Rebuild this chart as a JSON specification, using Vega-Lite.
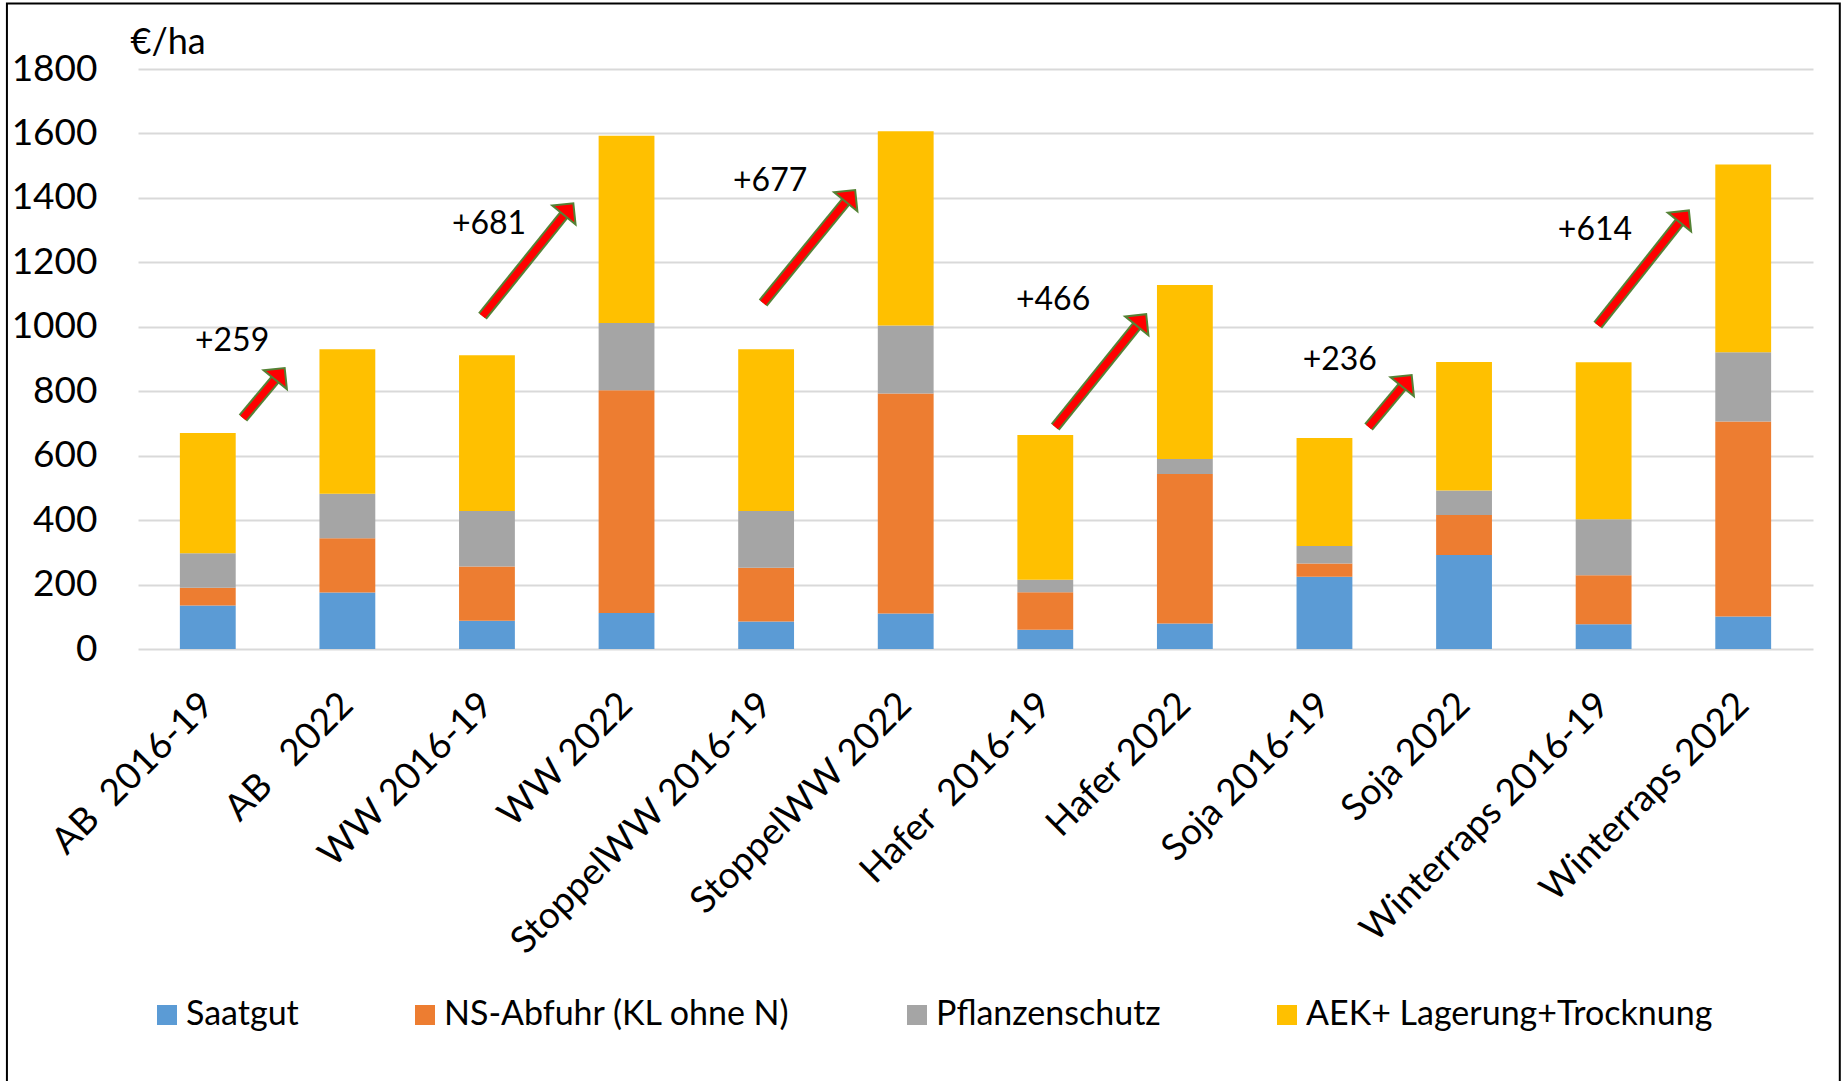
{
  "$schema": "https://vega.github.io/schema/vega-lite/v6.json",
  "width": 1675,
  "height": 580,
  "autosize": {"type": "none"},
  "padding": {"left": 138, "top": 69, "right": 31, "bottom": 432},
  "background": "white",
  "config": {"font": "Lato", "view": {"stroke": null}},
  "datasets": {
    "bars": [
      {"k": "AB\u00a0\u00a02016-19", "c": "Saatgut", "o": 1, "v": 135},
      {"k": "AB\u00a0\u00a02016-19", "c": "NS-Abfuhr (KL ohne N)", "o": 2, "v": 55},
      {"k": "AB\u00a0\u00a02016-19", "c": "Pflanzenschutz", "o": 3, "v": 107},
      {"k": "AB\u00a0\u00a02016-19", "c": "AEK+ Lagerung+Trocknung", "o": 4, "v": 373},
      {"k": "AB\u00a0\u00a0\u00a02022", "c": "Saatgut", "o": 1, "v": 175},
      {"k": "AB\u00a0\u00a0\u00a02022", "c": "NS-Abfuhr (KL ohne N)", "o": 2, "v": 169},
      {"k": "AB\u00a0\u00a0\u00a02022", "c": "Pflanzenschutz", "o": 3, "v": 138},
      {"k": "AB\u00a0\u00a0\u00a02022", "c": "AEK+ Lagerung+Trocknung", "o": 4, "v": 448},
      {"k": "WW 2016-19", "c": "Saatgut", "o": 1, "v": 88},
      {"k": "WW 2016-19", "c": "NS-Abfuhr (KL ohne N)", "o": 2, "v": 168},
      {"k": "WW 2016-19", "c": "Pflanzenschutz", "o": 3, "v": 172},
      {"k": "WW 2016-19", "c": "AEK+ Lagerung+Trocknung", "o": 4, "v": 484},
      {"k": "WW 2022", "c": "Saatgut", "o": 1, "v": 112},
      {"k": "WW 2022", "c": "NS-Abfuhr (KL ohne N)", "o": 2, "v": 691},
      {"k": "WW 2022", "c": "Pflanzenschutz", "o": 3, "v": 209},
      {"k": "WW 2022", "c": "AEK+ Lagerung+Trocknung", "o": 4, "v": 581},
      {"k": "StoppelWW 2016-19", "c": "Saatgut", "o": 1, "v": 85},
      {"k": "StoppelWW 2016-19", "c": "NS-Abfuhr (KL ohne N)", "o": 2, "v": 167},
      {"k": "StoppelWW 2016-19", "c": "Pflanzenschutz", "o": 3, "v": 176},
      {"k": "StoppelWW 2016-19", "c": "AEK+ Lagerung+Trocknung", "o": 4, "v": 502},
      {"k": "StoppelWW 2022", "c": "Saatgut", "o": 1, "v": 110},
      {"k": "StoppelWW 2022", "c": "NS-Abfuhr (KL ohne N)", "o": 2, "v": 683},
      {"k": "StoppelWW 2022", "c": "Pflanzenschutz", "o": 3, "v": 211},
      {"k": "StoppelWW 2022", "c": "AEK+ Lagerung+Trocknung", "o": 4, "v": 603},
      {"k": "Hafer\u00a0\u00a02016-19", "c": "Saatgut", "o": 1, "v": 60},
      {"k": "Hafer\u00a0\u00a02016-19", "c": "NS-Abfuhr (KL ohne N)", "o": 2, "v": 116},
      {"k": "Hafer\u00a0\u00a02016-19", "c": "Pflanzenschutz", "o": 3, "v": 39},
      {"k": "Hafer\u00a0\u00a02016-19", "c": "AEK+ Lagerung+Trocknung", "o": 4, "v": 449},
      {"k": "Hafer 2022", "c": "Saatgut", "o": 1, "v": 79},
      {"k": "Hafer 2022", "c": "NS-Abfuhr (KL ohne N)", "o": 2, "v": 464},
      {"k": "Hafer 2022", "c": "Pflanzenschutz", "o": 3, "v": 47},
      {"k": "Hafer 2022", "c": "AEK+ Lagerung+Trocknung", "o": 4, "v": 540},
      {"k": "Soja 2016-19", "c": "Saatgut", "o": 1, "v": 224},
      {"k": "Soja 2016-19", "c": "NS-Abfuhr (KL ohne N)", "o": 2, "v": 41},
      {"k": "Soja 2016-19", "c": "Pflanzenschutz", "o": 3, "v": 55},
      {"k": "Soja 2016-19", "c": "AEK+ Lagerung+Trocknung", "o": 4, "v": 335},
      {"k": "Soja 2022", "c": "Saatgut", "o": 1, "v": 292},
      {"k": "Soja 2022", "c": "NS-Abfuhr (KL ohne N)", "o": 2, "v": 124},
      {"k": "Soja 2022", "c": "Pflanzenschutz", "o": 3, "v": 76},
      {"k": "Soja 2022", "c": "AEK+ Lagerung+Trocknung", "o": 4, "v": 399},
      {"k": "Winterraps 2016-19", "c": "Saatgut", "o": 1, "v": 77},
      {"k": "Winterraps 2016-19", "c": "NS-Abfuhr (KL ohne N)", "o": 2, "v": 152},
      {"k": "Winterraps 2016-19", "c": "Pflanzenschutz", "o": 3, "v": 174},
      {"k": "Winterraps 2016-19", "c": "AEK+ Lagerung+Trocknung", "o": 4, "v": 487},
      {"k": "Winterraps 2022", "c": "Saatgut", "o": 1, "v": 101},
      {"k": "Winterraps 2022", "c": "NS-Abfuhr (KL ohne N)", "o": 2, "v": 605},
      {"k": "Winterraps 2022", "c": "Pflanzenschutz", "o": 3, "v": 215},
      {"k": "Winterraps 2022", "c": "AEK+ Lagerung+Trocknung", "o": 4, "v": 583}
    ],
    "arrows": [
      {"ax": 0.752, "v": 717, "ax2": 1.017, "v2": 854},
      {"ax": 2.468, "v": 1033, "ax2": 3.085, "v2": 1365},
      {"ax": 4.478, "v": 1074, "ax2": 5.104, "v2": 1406},
      {"ax": 6.571, "v": 689, "ax2": 7.189, "v2": 1021},
      {"ax": 8.816, "v": 689, "ax2": 9.091, "v2": 832},
      {"ax": 10.458, "v": 1005, "ax2": 11.077, "v2": 1343}
    ],
    "labels": [
      {"ax": 0.674, "v": 956, "t": "+259"},
      {"ax": 2.515, "v": 1319, "t": "+681"},
      {"ax": 4.529, "v": 1453, "t": "+677"},
      {"ax": 6.556, "v": 1082, "t": "+466"},
      {"ax": 8.61, "v": 898, "t": "+236"},
      {"ax": 10.438, "v": 1301, "t": "+614"}
    ],
    "frame": [
      {"ax": -0.939, "ax2": 12.192, "v": 2003, "v2": -1450}
    ]
  },
  "layer": [
    {
      "data": {"name": "bars"},
      "mark": {"type": "bar"},
      "encoding": {
        "x": {
          "field": "k", "type": "nominal", "sort": null,
          "scale": {"paddingInner": 0.6, "paddingOuter": 0.3},
          "axis": {
            "title": null, "labelAngle": -45, "labelAlign": "right", "labelBaseline": "middle",
            "labelPadding": 50, "ticks": false, "tickSize": 0, "domain": false,
            "labelFontSize": 37, "labelFont": "Lato", "labelColor": "#000000", "labelLimit": 0
          }
        },
        "y": {
          "field": "v", "type": "quantitative", "stack": "zero",
          "scale": {"domain": [0, 1800], "nice": false, "zero": true},
          "axis": {
            "values": [0, 200, 400, 600, 800, 1000, 1200, 1400, 1600, 1800], "format": "d",
            "title": "€/ha", "titleAngle": 0, "titleAlign": "left", "titleBaseline": "alphabetic",
            "titleX": -8, "titleY": -16, "titleFontSize": 36, "titleFont": "Lato", "titleFontWeight": "normal", "titleColor": "#000000",
            "labelFontSize": 37, "labelFont": "Lato", "labelColor": "#000000", "labelPadding": 41,
            "ticks": false, "tickSize": 0, "domain": false,
            "grid": true, "gridColor": "#D9D9D9", "gridWidth": 2
          }
        },
        "color": {
          "field": "c", "type": "nominal",
          "scale": {
            "domain": ["Saatgut", "NS-Abfuhr (KL ohne N)", "Pflanzenschutz", "AEK+ Lagerung+Trocknung"],
            "range": ["#5B9BD5", "#ED7D31", "#A5A5A5", "#FFC000"]
          },
          "legend": {
            "title": null, "orient": "none", "legendX": 12, "legendY": 929, "direction": "horizontal",
            "symbolType": "square", "symbolSize": 400, "symbolStrokeWidth": 0,
            "labelFontSize": 34, "labelFont": "Lato", "labelColor": "#000000", "labelOffset": 2,
            "columnPadding": 109, "labelLimit": 0
          }
        },
        "order": {"field": "o", "type": "quantitative"}
      }
    },
    {
      "data": {"name": "arrows"},
      "mark": {"type": "rule", "color": "#548235", "strokeWidth": 11, "strokeCap": "butt"},
      "encoding": {
        "x": {"field": "ax", "type": "quantitative", "scale": {"domain": [0, 12], "nice": false, "zero": false}, "axis": null},
        "x2": {"field": "ax2"},
        "y": {"field": "v", "type": "quantitative", "scale": {"domain": [0, 1800], "nice": false}},
        "y2": {"field": "v2"}
      }
    },
    {
      "data": {"name": "arrows"},
      "mark": {"type": "rule", "color": "#FF0000", "strokeWidth": 7, "strokeCap": "butt"},
      "encoding": {
        "x": {"field": "ax", "type": "quantitative", "scale": {"domain": [0, 12], "nice": false, "zero": false}, "axis": null},
        "x2": {"field": "ax2"},
        "y": {"field": "v", "type": "quantitative", "scale": {"domain": [0, 1800], "nice": false}},
        "y2": {"field": "v2"}
      }
    },
    {
      "data": {"name": "arrows"},
      "mark": {"type": "point", "shape": "M0,-0.5L1,0.5L-1,0.5Z", "size": 900, "angle": 39, "filled": true, "fill": "#FF0000", "stroke": "#548235", "strokeWidth": 2, "opacity": 1},
      "encoding": {
        "x": {"field": "ax2", "type": "quantitative", "scale": {"domain": [0, 12], "nice": false, "zero": false}, "axis": null},
        "y": {"field": "v2", "type": "quantitative", "scale": {"domain": [0, 1800], "nice": false}}
      }
    },
    {
      "data": {"name": "labels"},
      "mark": {"type": "text", "fontSize": 32, "font": "Lato", "color": "#000000", "align": "center", "baseline": "middle"},
      "encoding": {
        "x": {"field": "ax", "type": "quantitative", "scale": {"domain": [0, 12], "nice": false, "zero": false}, "axis": null},
        "y": {"field": "v", "type": "quantitative", "scale": {"domain": [0, 1800], "nice": false}},
        "text": {"field": "t"}
      }
    },
    {
      "data": {"name": "frame"},
      "mark": {"type": "rect", "fill": null, "stroke": "#000000", "strokeWidth": 2, "clip": false},
      "encoding": {
        "x": {"field": "ax", "type": "quantitative", "scale": {"domain": [0, 12], "nice": false, "zero": false}, "axis": null},
        "x2": {"field": "ax2"},
        "y": {"field": "v", "type": "quantitative", "scale": {"domain": [0, 1800], "nice": false}},
        "y2": {"field": "v2"}
      }
    }
  ],
  "resolve": {"scale": {"x": "independent"}}
}
